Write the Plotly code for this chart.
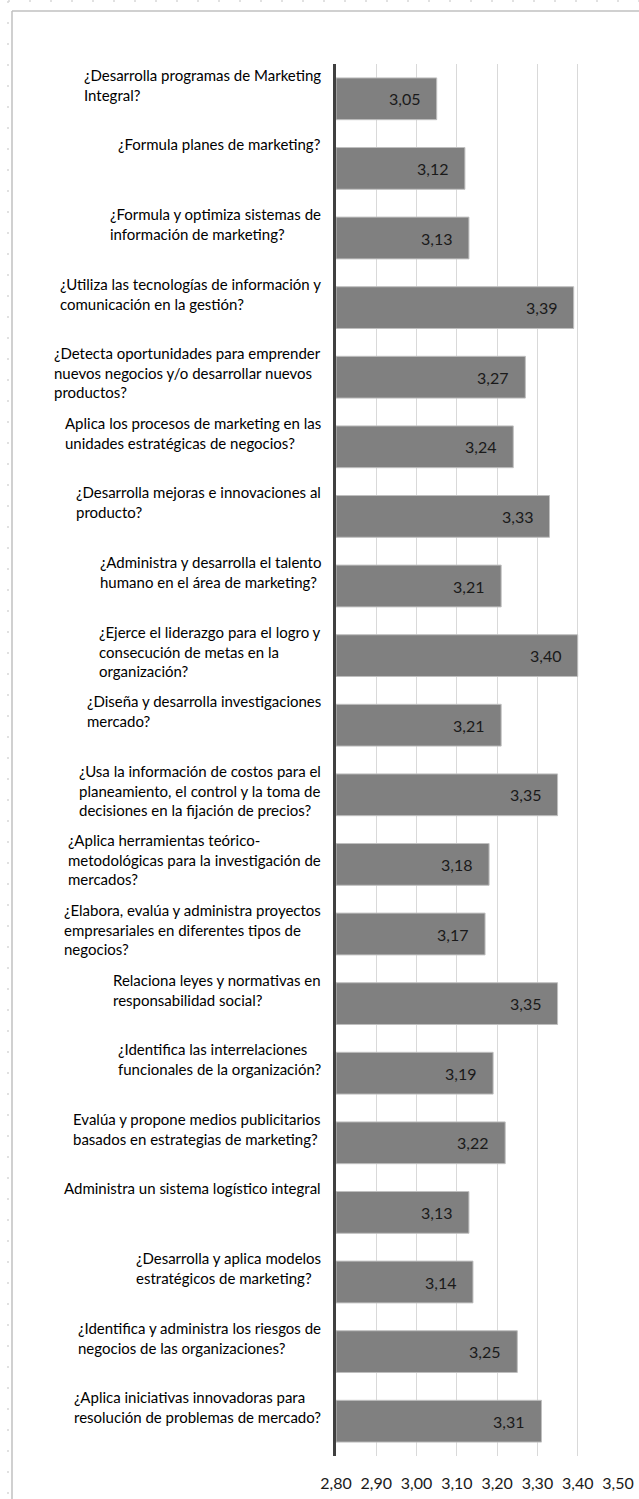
import plotly.graph_objects as go

categories = [
    "¿Desarrolla programas de Marketing<br>Integral?",
    "¿Formula planes de marketing?",
    "¿Formula y optimiza sistemas de<br>información de marketing?",
    "¿Utiliza las tecnologías de información y<br>comunicación en la gestión?",
    "¿Detecta oportunidades para emprender<br>nuevos negocios y/o desarrollar nuevos<br>productos?",
    "Aplica los procesos de marketing en las<br>unidades estratégicas de negocios?",
    "¿Desarrolla mejoras e innovaciones al<br>producto?",
    "¿Administra y desarrolla el talento<br>humano en el área de marketing?",
    "¿Ejerce el liderazgo para el logro y<br>consecución de metas en la<br>organización?",
    "¿Diseña y desarrolla investigaciones<br>mercado?",
    "¿Usa la información de costos para el<br>planeamiento, el control y la toma de<br>decisiones en la fijación de precios?",
    "¿Aplica herramientas teórico-<br>metodológicas para la investigación de<br>mercados?",
    "¿Elabora, evalúa y administra proyectos<br>empresariales en diferentes tipos de<br>negocios?",
    "Relaciona leyes y normativas en<br>responsabilidad social?",
    "¿Identifica las interrelaciones<br>funcionales de la organización?",
    "Evalúa y propone medios publicitarios<br>basados en estrategias de marketing?",
    "Administra un sistema logístico integral",
    "¿Desarrolla y aplica modelos<br>estratégicos de marketing?",
    "¿Identifica y administra los riesgos de<br>negocios de las organizaciones?",
    "¿Aplica iniciativas innovadoras para<br>resolución de problemas de mercado?",
]
values = [3.05, 3.12, 3.13, 3.39, 3.27, 3.24, 3.33, 3.21, 3.40, 3.21,
          3.35, 3.18, 3.17, 3.35, 3.19, 3.22, 3.13, 3.14, 3.25, 3.31]
x_ticks = [2.80, 2.90, 3.00, 3.10, 3.20, 3.30, 3.40, 3.50]
x_range = [2.80, 3.50]

W, H = 639, 1499
L, R, T, B = 336, 21, 64, 43
PW, PH = W - L - R, H - T - B

FONT = "Lato"
ids = list(range(len(categories)))

fig = go.Figure()
fig.add_trace(go.Bar(
    y=ids, x=[v - x_range[0] for v in values], base=x_range[0],
    orientation="h",
    marker=dict(color="#808080", line=dict(color="#bfbfbf", width=1)),
    width=0.6, hoverinfo="skip",
))

annotations = []
for i, (c, v) in enumerate(zip(categories, values)):
    annotations.append(dict(
        x=0, xref="paper", y=i, yref="y", text=c, showarrow=False,
        xanchor="right", yanchor="top", align="left", xshift=-13, yshift=35,
        font=dict(family=FONT, size=15, color="#000000"),
    ))
    annotations.append(dict(
        x=v, xref="x", y=i, yref="y", text=f"{v:.2f}".replace(".", ","),
        showarrow=False, xanchor="right", yanchor="middle", xshift=-15,
        font=dict(family=FONT, size=16, color="#1a1a1a"),
    ))

def px_x(p):
    return (p - L) / PW

def px_y(p):
    return 1 - (p - T) / PH

shapes = [
    # chart border (left and top)
    dict(type="line", xref="paper", yref="paper", x0=px_x(12), x1=px_x(12),
         y0=px_y(11), y1=px_y(H + 5), line=dict(color="#c0c0c0", width=1.5)),
    dict(type="line", xref="paper", yref="paper", x0=px_x(12), x1=px_x(W + 5),
         y0=px_y(11), y1=px_y(11), line=dict(color="#c0c0c0", width=1.5)),
    # dotted sheet lines
    dict(type="line", xref="paper", yref="paper", x0=px_x(8), x1=px_x(8),
         y0=px_y(1), y1=px_y(H + 5), line=dict(color="#d8d8d8", width=1.5, dash="2px,19px")),
    dict(type="line", xref="paper", yref="paper", x0=px_x(8), x1=px_x(W + 5),
         y0=px_y(1), y1=px_y(1), line=dict(color="#d8d8d8", width=1.5, dash="2px,19px")),
]

fig.update_layout(
    width=W, height=H,
    margin=dict(l=L, r=R, t=T, b=B, autoexpand=False),
    paper_bgcolor="white", plot_bgcolor="white",
    showlegend=False, bargap=0.4,
    separators=",.",
    font=dict(family=FONT, color="#000000"),
    xaxis=dict(
        range=x_range, tickvals=x_ticks, tickformat=".2f",
        showgrid=True, gridcolor="#d9d9d9", gridwidth=1,
        zeroline=False, showline=False, ticks="",
        tickfont=dict(family=FONT, size=16, color="#1a1a1a"),
        ticklabelstandoff=16,
    ),
    yaxis=dict(
        range=[len(categories) - 0.5, -0.5],
        showticklabels=False, showgrid=False, zeroline=False,
        showline=True, linecolor="#404040", linewidth=3, ticks="",
    ),
    annotations=annotations,
    shapes=shapes,
)

fig.write_html("out.html")
